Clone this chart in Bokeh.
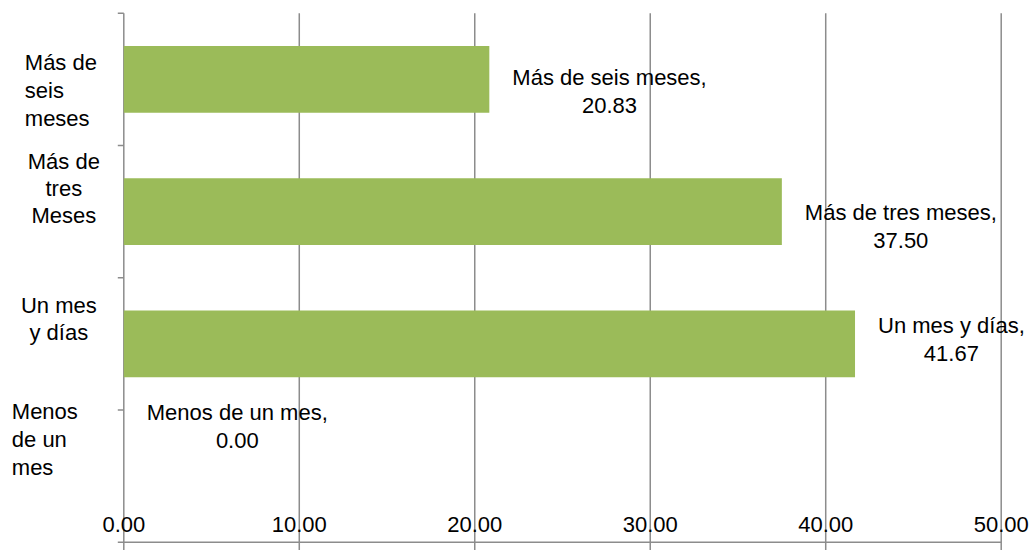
import numpy as np
from bokeh.plotting import figure
from bokeh.models import Range1d, ColumnDataSource
from bokeh.core.properties import value
from bokeh.embed import file_html
from bokeh.resources import INLINE

# Series, listed from the bottom category to the top one
categories = ["Menos de un mes", "Un mes y días", "Más de tres meses", "Más de seis meses"]
axis_labels = [["Menos", "de un", "mes"], ["Un mes", "y días"],
               ["Más de", "tres", "Meses"], ["Más de", "seis", "meses"]]
percent = [0.00, 41.67, 37.50, 20.83]
x_ticks = [0, 10, 20, 30, 40, 50]

# ---- page geometry (pixels) ----
W, H = 1036, 550
AX_LEFT, AX_RIGHT = 123.3, 1000.7     # where 0 and 50 fall
AX_TOP, AX_BOTTOM = 12.7, 541.7       # top of the category axis, value axis line
X_MAX = 50
n = len(categories)
PX_X = (AX_RIGHT - AX_LEFT) / X_MAX
PX_Y = (AX_BOTTOM - AX_TOP) / n
BASE_SHIFT = 9                         # baseline correction of the text glyphs, px upward


def dx(px):   # pixel length -> x data units
    return px / PX_X


def dy(px):   # pixel length -> y data units
    return px / PX_Y


FONT = value("Liberation Sans")
FONT_PX = "22px"
LINE_PX = 28
GRAY = "#8c8c8c"
GREEN = "#9bbb59"
INK = "#000000"

# advance widths (1/1000 em) of an Arial-metric face, used to centre the labels
ADV = {"M": 833, "U": 722, "á": 556, "a": 556, "s": 500, "d": 556, "e": 556,
       "i": 222, "í": 278, "m": 833, ",": 278, "t": 278, "r": 333, "n": 556,
       "y": 500, "o": 556, "u": 556, ".": 278, " ": 278}


def width_px(s, size=22):
    return sum(ADV.get(ch, 556) for ch in s) * size / 1000


p = figure(width=W, height=H,
           x_range=Range1d(-dx(AX_LEFT), X_MAX + dx(W - AX_RIGHT)),
           y_range=Range1d(-dy(H - AX_BOTTOM), n + dy(AX_TOP)),
           x_axis_type=None, y_axis_type=None,
           output_backend="svg", toolbar_location=None, min_border=0)
p.outline_line_color = None
p.background_fill_color = "white"
p.border_fill_color = "white"

y_pos = np.arange(n) + 0.5

# gridlines (the one at 0 is the category axis), each running through its tick mark
tick_len = dy(8)
p.segment(x0=x_ticks, y0=[-tick_len] * len(x_ticks), x1=x_ticks, y1=[n] * len(x_ticks),
          line_color=GRAY, line_width=1.5)
# value axis line
p.segment(x0=[0], y0=[0], x1=[X_MAX], y1=[0], line_color=GRAY, line_width=1.5)
# category boundary ticks on the left axis
bounds = list(range(n + 1))
p.segment(x0=[-dx(6)] * len(bounds), y0=bounds, x1=[0] * len(bounds), y1=bounds,
          line_color=GRAY, line_width=1.5)

p.hbar(y=y_pos, left=0, right=percent, height=0.505, fill_color=GREEN, line_color=None)

# value tick labels just above the axis line
p.text(x=x_ticks, y=[dy(9 + BASE_SHIFT)] * len(x_ticks), text=[f"{t:.2f}" for t in x_ticks],
       text_align="center", text_baseline="alphabetic",
       text_font=FONT, text_font_size=FONT_PX, text_color=INK)

# data labels: "category," over the value, to the right of each bar
first_base = [-55, -9, 10, 7]          # first baseline, px below the bar centre
gap = 23
lx, ly, lt = [], [], []
for c, v, yc, fb in zip(categories, percent, y_pos, first_base):
    head = f"{c},"
    cx = v + dx(gap + width_px(head) / 2)
    for k, line in enumerate([head, f"{v:.2f}"]):
        lx.append(cx)
        ly.append(yc - dy(fb + k * LINE_PX - BASE_SHIFT))
        lt.append(line)
p.text(x=lx, y=ly, text=lt, text_align="center", text_baseline="alphabetic",
       text_font=FONT, text_font_size=FONT_PX, text_color=INK)

# wrapped category names left of the axis
cat_align = ["left", "center", "center", "left"]
cat_x = [-112, -65, -60, -99]           # px from the axis
cat_base = [-56, -29, -41, -8]          # first baseline, px below the band centre
cat_step = [28, 27, 27, 28]
cx_, cy_, ct_, ca_ = [], [], [], []
for lines, yc, al, xo, fb, st in zip(axis_labels, y_pos, cat_align, cat_x, cat_base, cat_step):
    for k, line in enumerate(lines):
        cx_.append(dx(xo))
        cy_.append(yc - dy(fb + k * st - BASE_SHIFT))
        ct_.append(line)
        ca_.append(al)
cat_src = ColumnDataSource(dict(x=cx_, y=cy_, text=ct_, align=ca_))
p.text(x="x", y="y", text="text", text_align="align", source=cat_src,
       text_baseline="alphabetic",
       text_font=FONT, text_font_size=FONT_PX, text_color=INK)

open("out.html", "w").write(file_html(p, INLINE))
